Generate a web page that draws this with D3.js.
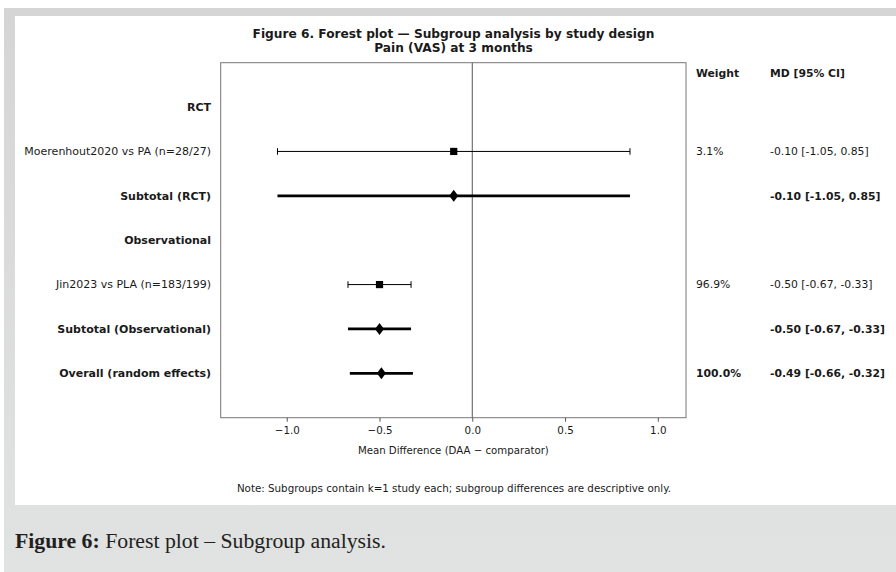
<!DOCTYPE html>
<html>
<head>
<meta charset="utf-8">
<script src="https://cdn.jsdelivr.net/npm/d3@7"></script>
<style>
  html, body { margin: 0; padding: 0; background: #fff; }
  svg { display: block; }
</style>
</head>
<body>
<svg id="chart" width="896" height="572"></svg>
<script>
// Forest plot rows, top to bottom
const rowLabels = [
  "RCT",
  "Moerenhout2020 vs PA (n=28/27)",
  "Subtotal (RCT)",
  "Observational",
  "Jin2023 vs PLA (n=183/199)",
  "Subtotal (Observational)",
  "Overall (random effects)"
];
const rowTypes = ["header", "study", "subtotal", "header", "study", "subtotal", "overall"];
const meanDiff = [null, -0.10, -0.10, null, -0.50, -0.50, -0.49];
const ciLow    = [null, -1.05, -1.05, null, -0.67, -0.67, -0.66];
const ciHigh   = [null,  0.85,  0.85, null, -0.33, -0.33, -0.32];
const weights  = ["", "3.1%", "", "", "96.9%", "", "100.0%"];
const xTicks   = [-1.0, -0.5, 0.0, 0.5, 1.0];
const xDomain  = [-1.356, 1.152];

const titleLines = [
  "Figure 6. Forest plot \u2014 Subgroup analysis by study design",
  "Pain (VAS) at 3 months"
];
const xLabel = "Mean Difference (DAA \u2212 comparator)";
const noteText = "Note: Subgroups contain k=1 study each; subgroup differences are descriptive only.";
const captionBold = "Figure 6:";
const captionText = " Forest plot \u2013 Subgroup analysis.";

const svg = d3.select("#chart");
const W = 896, H = 572;
const sans = "'DejaVu Sans', sans-serif";
const ink = "#1a1a1a";

// page background and white figure panel
const defs = svg.append("defs");
const grad = defs.append("linearGradient").attr("id", "bg").attr("x1", 0).attr("y1", 0).attr("x2", 0).attr("y2", 1);
grad.append("stop").attr("offset", "0%").attr("stop-color", "#d5d5d5");
grad.append("stop").attr("offset", "100%").attr("stop-color", "#e1e2e2");
svg.append("rect").attr("width", W).attr("height", H).attr("fill", "#fff");
svg.append("rect").attr("x", 4).attr("y", 8).attr("width", W - 4).attr("height", H - 8).attr("fill", "url(#bg)");
svg.append("rect").attr("x", 15).attr("y", 16).attr("width", W - 15).attr("height", 489).attr("fill", "#fff");

// plot area
const plot = { left: 220.7, right: 686, top: 62.7, bottom: 417.7 };
const x = d3.scaleLinear().domain(xDomain).range([plot.left, plot.right]);
const y = d3.scaleLinear().domain([-1, rowLabels.length]).range([plot.top, plot.bottom]);

// title
svg.append("g").selectAll("text").data(titleLines).join("text")
  .attr("x", 453.5).attr("y", (d, i) => 38 + i * 14)
  .attr("text-anchor", "middle")
  .attr("font-family", sans).attr("font-weight", "bold").attr("font-size", 12.2)
  .attr("fill", ink)
  .text(d => d);

// reference line at zero
svg.append("line")
  .attr("x1", x(0)).attr("x2", x(0)).attr("y1", plot.top).attr("y2", plot.bottom)
  .attr("stroke", "#555").attr("stroke-width", 1);

// confidence intervals and point estimates
const rows = rowLabels.map((label, i) => ({
  label, type: rowTypes[i], md: meanDiff[i], lo: ciLow[i], hi: ciHigh[i], w: weights[i], i
}));
const est = rows.filter(r => r.md !== null);

const marks = svg.append("g");
est.forEach(r => {
  const cy = y(r.i);
  const pooled = r.type !== "study";
  marks.append("line")
    .attr("x1", x(r.lo)).attr("x2", x(r.hi)).attr("y1", cy).attr("y2", cy)
    .attr("stroke", "#000").attr("stroke-width", pooled ? 2.7 : 1);
  if (!pooled) {
    [r.lo, r.hi].forEach(v => {
      marks.append("line")
        .attr("x1", x(v)).attr("x2", x(v)).attr("y1", cy - 3.3).attr("y2", cy + 3.3)
        .attr("stroke", "#000").attr("stroke-width", 1);
    });
    marks.append("rect")
      .attr("x", x(r.md) - 3.6).attr("y", cy - 3.6).attr("width", 7.2).attr("height", 7.2)
      .attr("fill", "#000");
  } else {
    const cx = x(r.md);
    marks.append("path")
      .attr("d", `M${cx},${cy - 6}L${cx + 4.5},${cy}L${cx},${cy + 6}L${cx - 4.5},${cy}Z`)
      .attr("fill", "#000");
  }
});

// axes frame
svg.append("rect")
  .attr("x", plot.left).attr("y", plot.top)
  .attr("width", plot.right - plot.left).attr("height", plot.bottom - plot.top)
  .attr("fill", "none").attr("stroke", "#777").attr("stroke-width", 1);

const xAxis = d3.axisBottom(x).tickValues(xTicks).tickSize(4).tickPadding(5)
  .tickFormat(d => d.toFixed(1).replace("-", "\u2212"));
const gx = svg.append("g").attr("transform", `translate(0,${plot.bottom})`).call(xAxis);
gx.select(".domain").remove();
gx.selectAll(".tick line").attr("stroke", "#555");
gx.selectAll(".tick text").attr("font-family", sans).attr("font-size", 10.3).attr("fill", ink);

svg.append("text")
  .attr("x", (plot.left + plot.right) / 2).attr("y", 454)
  .attr("text-anchor", "middle")
  .attr("font-family", sans).attr("font-size", 10.2).attr("fill", ink)
  .text(xLabel);

// row labels on the left
svg.append("g").selectAll("text").data(rows).join("text")
  .attr("x", 211).attr("y", d => y(d.i)).attr("dy", "0.35em")
  .attr("text-anchor", "end")
  .attr("font-family", sans).attr("font-size", 11)
  .attr("font-weight", d => d.type === "study" ? "normal" : "bold")
  .attr("fill", ink)
  .text(d => d.label);

// weight and MD [95% CI] columns
const colWeight = 696, colMD = 770;
const head = svg.append("g").attr("font-family", sans).attr("font-weight", "bold").attr("font-size", 10.8).attr("fill", ink);
head.append("text").attr("x", colWeight).attr("y", 73).attr("dy", "0.35em").text("Weight");
head.append("text").attr("x", colMD).attr("y", 73).attr("dy", "0.35em").text("MD [95% CI]");

const fmt = v => v.toFixed(2);
const cols = svg.append("g").attr("font-family", sans).attr("font-size", 10.8).attr("fill", ink);
rows.forEach(r => {
  const bold = r.type === "subtotal" || r.type === "overall";
  if (r.w) {
    cols.append("text").attr("x", colWeight).attr("y", y(r.i)).attr("dy", "0.35em")
      .attr("font-weight", r.type === "overall" ? "bold" : "normal").text(r.w);
  }
  if (r.md !== null) {
    cols.append("text").attr("x", colMD).attr("y", y(r.i)).attr("dy", "0.35em")
      .attr("font-weight", bold ? "bold" : "normal")
      .text(`${fmt(r.md)} [${fmt(r.lo)}, ${fmt(r.hi)}]`);
  }
});

// footnote
svg.append("text")
  .attr("x", 454).attr("y", 488).attr("dy", "0.35em")
  .attr("text-anchor", "middle")
  .attr("font-family", sans).attr("font-size", 10.3).attr("fill", ink)
  .text(noteText);

// figure caption
const cap = svg.append("text")
  .attr("x", 15).attr("y", 548)
  .attr("font-family", "'Liberation Serif', serif").attr("font-size", 20.5).attr("fill", "#231f20")
  .attr("textLength", 371).attr("lengthAdjust", "spacingAndGlyphs");
cap.append("tspan").attr("font-weight", "bold").text(captionBold);
cap.append("tspan").text(captionText);
</script>
</body>
</html>
